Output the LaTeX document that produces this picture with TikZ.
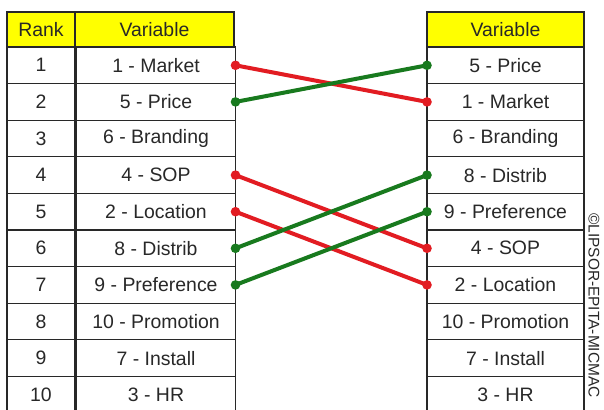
\documentclass[tikz,border=0pt]{standalone}
\usepackage{fontspec}
\setmainfont{Liberation Sans}
\definecolor{hdr}{RGB}{255,255,0}
\definecolor{lred}{RGB}{226,28,34}
\definecolor{lgreen}{RGB}{24,122,30}
\definecolor{ink}{RGB}{40,40,40}
\tikzset{
  cell/.style={draw=ink, line width=1.2bp, minimum height=36.6bp, inner sep=0pt, outer sep=0pt,
    font=\fontsize{19.5}{20}\selectfont, text=ink, anchor=center},
  rankcell/.style={minimum width=68bp},
  varcell/.style={minimum width=159bp},
  rvarcell/.style={minimum width=157bp},
  hdrcell/.style={fill=hdr, minimum height=35bp},
  link/.style={line width=4bp},
}
\begin{document}
\begin{tikzpicture}[x=1bp,y=-1bp]
\useasboundingbox[fill=white] (0,0) rectangle (604,409);
% headers
\node[cell,rankcell,hdrcell] (HK) at (41,29.5) {Rank};
\node[cell,varcell,hdrcell] (HL) at (154.5,29.5) {Variable};
\node[cell,rvarcell,hdrcell] (HR) at (505.5,29.5) {Variable};
% rows
\foreach \l [count=\i] in {1 - Market, 5 - Price, 6 - Branding, 4 - SOP, 2 - Location, 8 - Distrib, 9 - Preference, 10 - Promotion, 7 - Install, 3 - HR}{
  \node[cell,rankcell] (K\i) at (41,{47+36.6*(\i-0.5)}) {\i};
  \node[cell,varcell] (L\i) at (156,{47+36.6*(\i-0.5)}) {\l};
}
\foreach \r [count=\i] in {5 - Price, 1 - Market, 6 - Branding, 8 - Distrib, 9 - Preference, 4 - SOP, 2 - Location, 10 - Promotion, 7 - Install, 3 - HR}{
  \node[cell,rvarcell] (R\i) at (505.5,{47+36.6*(\i-0.5)}) {\r};
}
% connectors
\foreach \a/\b/\c in {1/2/lred, 2/1/lgreen, 4/6/lred, 5/7/lred, 6/4/lgreen, 7/5/lgreen}{
  \draw[link,\c] (L\a.east) -- (R\b.west);
  \fill[\c] (L\a.east) circle (4.8bp);
  \fill[\c] (R\b.west) circle (4.8bp);
}
% watermark
\node[rotate=-90, anchor=west, inner sep=0pt, font=\fontsize{15.5}{16}\selectfont, text=ink] (WM) at (594,213) {©LIPSOR-EPITA-MICMAC};
\end{tikzpicture}
\end{document}
